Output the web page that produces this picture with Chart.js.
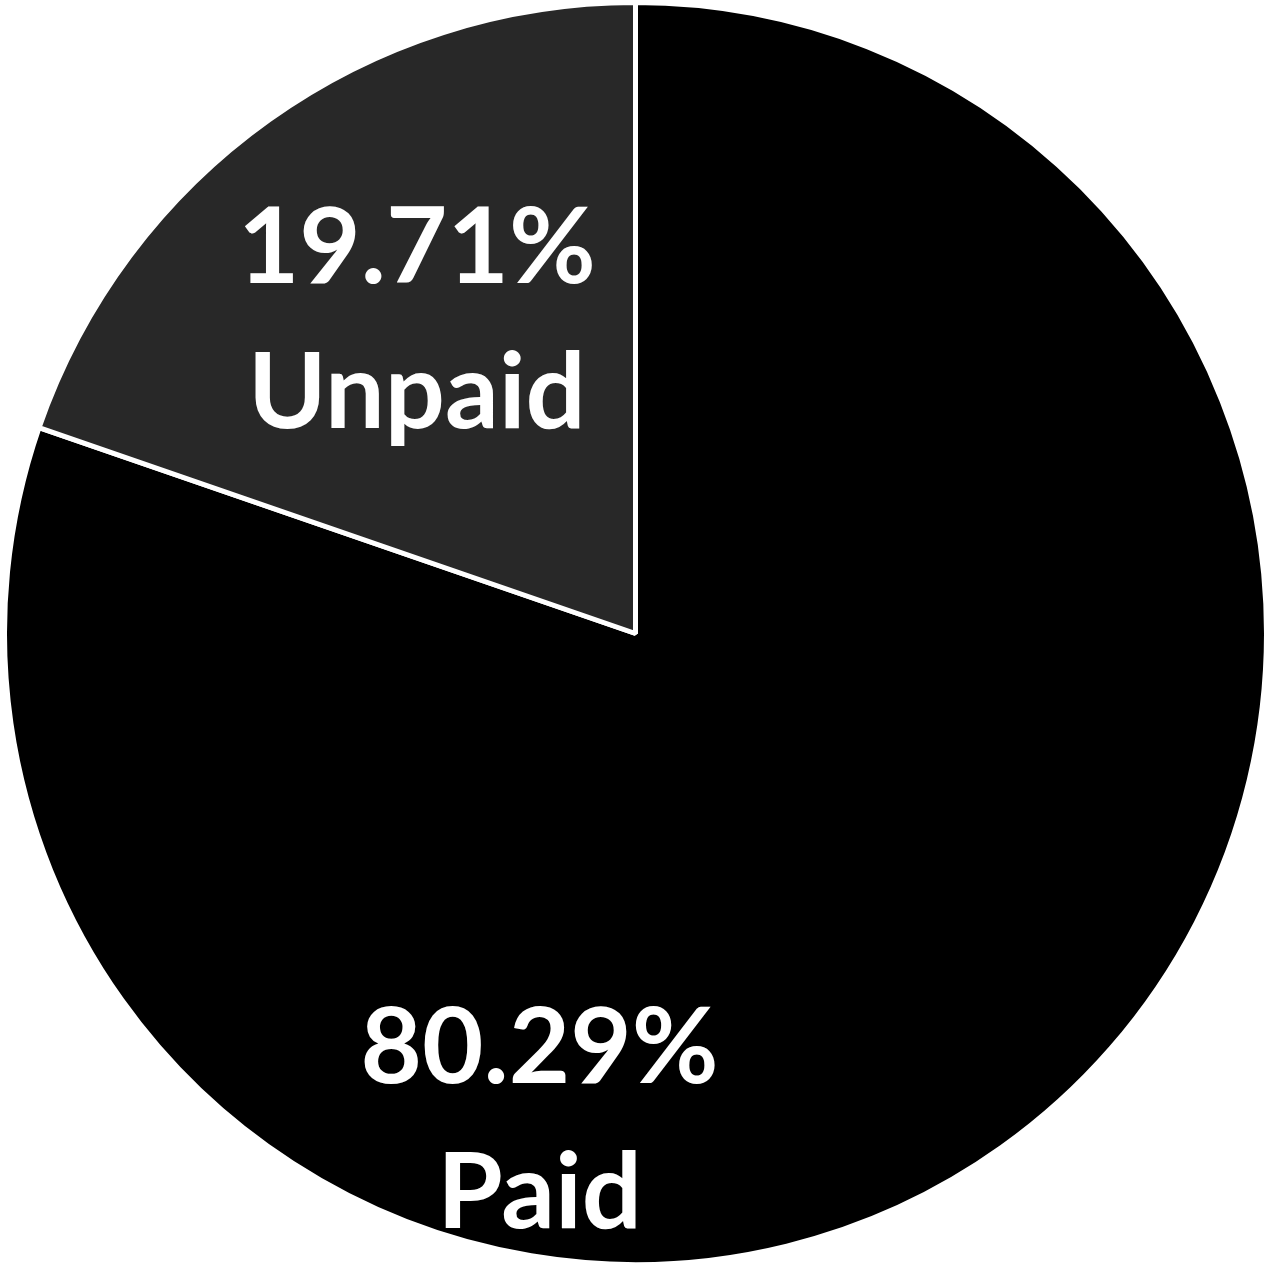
<!DOCTYPE html>
<html>
<head>
<meta charset="utf-8">
<script src="https://cdn.jsdelivr.net/npm/chart.js@4/dist/chart.umd.min.js"></script>
<style>
html,body{margin:0;padding:0;background:#fff;}
#wrap{width:1271px;height:1267px;position:relative;}
</style>
</head>
<body>
<div id="wrap"><canvas id="c" width="1271" height="1267"></canvas></div>
<script>
const categories = ['Paid', 'Unpaid'];
const values = [80.29, 19.71];
const valueLabels = ['80.29%', '19.71%'];
const sliceColors = ['#000000', '#282828'];

// label anchor (baseline of first line) as fraction of radius from pie centre
const labelAnchors = [
  {dx: -0.152, dy: 0.712},
  {dx: -0.3465, dy: -0.555}
];

const labelPlugin = {
  id: 'sliceLabels',
  afterDatasetsDraw(chart) {
    const ctx = chart.ctx;
    const meta = chart.getDatasetMeta(0);
    ctx.save();
    ctx.fillStyle = '#ffffff';
    ctx.textAlign = 'center';
    ctx.textBaseline = 'alphabetic';
    ctx.font = 'bold 106px Lato';
    meta.data.forEach((arc, i) => {
      const r = arc.outerRadius;
      const a = labelAnchors[i];
      const x = arc.x + a.dx * r;
      const y = arc.y + a.dy * r;
      const lh = 0.23 * r;
      ctx.fillText(valueLabels[i], x, y);
      ctx.fillText(categories[i], x, y + lh);
    });
    ctx.restore();
  }
};

new Chart(document.getElementById('c'), {
  type: 'pie',
  data: {
    labels: categories,
    datasets: [{
      data: values,
      backgroundColor: sliceColors,
      borderColor: '#ffffff',
      borderWidth: 5
    }]
  },
  options: {
    responsive: false,
    animation: false,
    layout: {padding: 0},
    plugins: {
      legend: {display: false},
      tooltip: {enabled: false}
    }
  },
  plugins: [labelPlugin]
});
</script>
</body>
</html>
